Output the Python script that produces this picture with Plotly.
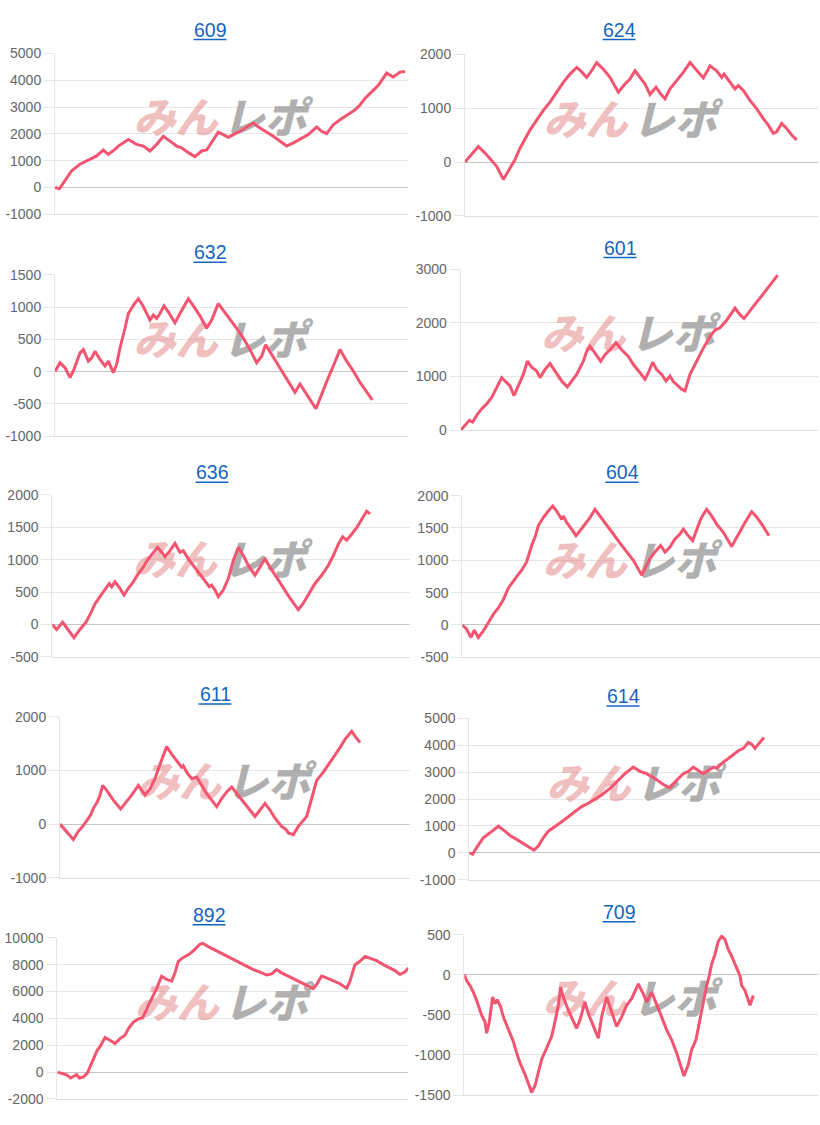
import plotly.graph_objects as go

# ---------------- data ----------------
titles = ["609", "624", "632", "601", "636", "604", "611", "614", "892", "709"]

x_609 = [0, 13, 30, 50, 75, 105, 125, 145, 160, 180, 190, 220, 245, 265, 285, 305, 325, 345, 365, 380,
         400, 420, 440, 455, 475, 490, 505, 520, 535, 555, 595, 615, 655, 695, 715, 740, 760, 785, 800, 815,
         835, 855, 885, 900, 915, 930, 950, 970, 995, 1015, 1035, 1050]
y_609 = [0, -50, 257, 625, 870, 1054, 1176, 1397, 1237, 1421, 1544, 1789, 1605, 1544, 1360, 1605, 1911, 1727, 1544, 1482,
         1299, 1152, 1360, 1397, 1789, 2058, 1972, 1874, 1972, 2095, 2401, 2217, 1911, 1544, 1666, 1850, 1972, 2254, 2095, 2009,
         2340, 2524, 2769, 2891, 3075, 3320, 3565, 3810, 4263, 4116, 4300, 4324]

x_624 = [0, 20, 40, 60, 80, 95, 115, 135, 150, 165, 180, 195, 215, 235, 255, 275, 295, 315, 335, 345,
         365, 380, 395, 415, 435, 460, 480, 495, 510, 525, 540, 555, 573, 585, 600, 615, 635, 655, 675, 695,
         715, 730, 735, 755, 770, 777, 795, 810, 820, 835, 855, 875, 895, 910, 925, 935, 950, 965, 980, 995]
y_624 = [0, 134, 287, 165, 31, -79, -323, -110, 43, 256, 439, 592, 775, 958, 1110, 1293, 1476, 1629, 1751, 1702,
         1568, 1690, 1842, 1720, 1568, 1293, 1446, 1537, 1690, 1568, 1446, 1251, 1385, 1275, 1171, 1354, 1507, 1659, 1842, 1690,
         1556, 1720, 1781, 1690, 1568, 1629, 1476, 1354, 1415, 1324, 1141, 988, 805, 683, 531, 561, 714, 622, 500, 409]

x_632 = [0, 15, 30, 45, 55, 65, 75, 85, 100, 110, 120, 135, 150, 160, 175, 185, 195, 210, 220, 235,
         250, 263, 275, 285, 295, 305, 315, 327, 340, 360, 375, 400, 415, 435, 455, 470, 490, 505, 525, 545,
         565, 585, 605, 620, 632, 645, 660, 675, 695, 720, 735, 750, 770, 783, 800, 820, 835, 855, 875, 895,
         915, 935, 952]
y_632 = [0, 137, 61, -92, 10, 137, 290, 341, 163, 214, 316, 188, 87, 163, -15, 112, 366, 672, 901, 1028,
         1130, 1028, 901, 799, 875, 825, 901, 1018, 926, 758, 901, 1130, 1018, 865, 672, 799, 1054, 952, 799, 672,
         519, 341, 137, 239, 417, 305, 188, 61, -117, -321, -193, -321, -473, -575, -346, -92, 87, 341, 163, 10,
         -168, -321, -438]

x_601 = [0, 13, 26, 36, 48, 63, 78, 93, 108, 123, 138, 148, 160, 173, 188, 200, 213, 228, 238, 253,
         268, 283, 303, 320, 333, 348, 358, 368, 378, 388, 403, 420, 433, 448, 466, 483, 503, 518, 538, 553,
         563, 576, 588, 603, 616, 628, 638, 653, 663, 673, 688, 708, 728, 748, 763, 778, 798, 823, 838, 850,
         868, 888, 908, 928, 951]
y_601 = [0, 92, 184, 153, 275, 398, 490, 612, 796, 979, 887, 826, 643, 826, 1040, 1285, 1175, 1102, 979, 1132,
         1242, 1102, 918, 808, 918, 1040, 1163, 1285, 1469, 1561, 1438, 1285, 1408, 1499, 1634, 1499, 1377, 1224, 1071, 949,
         1071, 1267, 1132, 1040, 918, 1010, 906, 826, 765, 734, 1040, 1285, 1530, 1744, 1867, 1909, 2050, 2277, 2154, 2081,
         2234, 2387, 2540, 2705, 2889]

x_636 = [0, 13, 31, 43, 65, 83, 101, 113, 128, 143, 158, 171, 178, 188, 203, 215, 228, 243, 258, 273,
         288, 303, 316, 328, 338, 353, 368, 383, 393, 408, 423, 443, 461, 471, 478, 488, 498, 513, 528, 543,
         558, 573, 588, 608, 623, 638, 653, 668, 688, 713, 738, 753, 768, 788, 808, 828, 843, 858, 871, 883,
         898, 913, 928, 943, 953]
y_636 = [0, -76, 35, -51, -203, -76, 35, 152, 319, 431, 532, 634, 583, 659, 558, 456, 558, 659, 786, 887,
         1014, 1115, 1191, 1115, 1049, 1141, 1252, 1115, 1141, 1014, 913, 786, 659, 583, 608, 532, 431, 532, 710, 989,
         1191, 1065, 913, 760, 887, 1014, 887, 760, 608, 406, 228, 330, 456, 634, 760, 913, 1065, 1242, 1354, 1303,
         1394, 1496, 1622, 1749, 1709]

x_604 = [0, 13, 26, 36, 48, 63, 78, 93, 108, 123, 138, 148, 163, 178, 193, 208, 218, 228, 243, 258,
         271, 283, 298, 303, 313, 328, 341, 353, 368, 383, 398, 413, 433, 453, 473, 493, 513, 538, 548, 563,
         578, 595, 608, 623, 638, 653, 663, 675, 691, 701, 713, 723, 733, 748, 763, 783, 808, 818, 833, 848,
         868, 883, 898, 913, 920]
y_604 = [0, -66, -193, -81, -193, -91, 36, 163, 264, 391, 569, 645, 747, 848, 975, 1229, 1356, 1534, 1661, 1763,
         1839, 1763, 1636, 1687, 1585, 1483, 1382, 1458, 1560, 1661, 1788, 1687, 1560, 1407, 1265, 1128, 1001, 772, 874, 1026,
         1128, 1229, 1128, 1204, 1331, 1407, 1483, 1397, 1306, 1458, 1610, 1712, 1788, 1687, 1560, 1433, 1214, 1306, 1458, 1585,
         1753, 1671, 1560, 1433, 1382]

x_611 = [0, 15, 30, 40, 55, 68, 82, 92, 100, 112, 120, 128, 140, 160, 182, 200, 215, 235, 245, 255,
         270, 285, 295, 310, 320, 335, 350, 365, 370, 380, 395, 410, 425, 440, 455, 470, 485, 500, 515, 530,
         545, 565, 585, 600, 615, 630, 645, 665, 678, 685, 700, 715, 730, 740, 755, 770, 790, 810, 825, 840,
         855, 875, 885, 900]
y_611 = [0, -104, -208, -288, -135, -43, 80, 171, 294, 416, 539, 722, 630, 447, 282, 416, 539, 722, 630, 539,
         661, 845, 1028, 1273, 1444, 1304, 1181, 1059, 1089, 967, 845, 875, 722, 569, 447, 324, 477, 600, 692, 569,
         447, 294, 141, 263, 386, 263, 110, -43, -104, -165, -196, -43, 80, 141, 477, 814, 967, 1151, 1273, 1426,
         1579, 1732, 1640, 1518]

x_614 = [0, 10, 22, 42, 62, 87, 107, 122, 142, 167, 194, 207, 222, 237, 252, 272, 292, 317, 337, 357,
         372, 397, 422, 447, 467, 492, 512, 532, 557, 582, 602, 622, 642, 657, 672, 687, 702, 717, 732, 742,
         762, 782, 807, 822, 837, 847, 857, 867, 884]
y_614 = [0, -50, 196, 562, 745, 990, 807, 648, 501, 318, 98, 257, 562, 807, 929, 1112, 1295, 1540, 1723, 1845,
         1967, 2151, 2395, 2701, 2945, 3189, 3031, 2945, 2762, 2542, 2420, 2701, 2945, 3031, 3189, 3067, 2945, 3067, 3189, 3153,
         3373, 3556, 3800, 3886, 4106, 4045, 3886, 4045, 4289]

x_892 = [0, 13, 28, 40, 50, 58, 66, 78, 90, 98, 108, 120, 128, 143, 158, 173, 188, 203, 213, 228,
         243, 256, 268, 283, 298, 313, 328, 343, 353, 363, 378, 393, 408, 428, 436, 453, 468, 488, 508, 528,
         548, 568, 588, 608, 628, 643, 658, 673, 693, 708, 728, 748, 768, 778, 793, 808, 828, 848, 868, 878,
         893, 908, 923, 938, 958, 978, 998, 1013, 1028, 1043, 1053]
y_892 = [0, -73, -196, -441, -269, -196, -441, -367, -73, 416, 1028, 1640, 1885, 2570, 2375, 2130, 2497, 2742, 3231, 3721,
         3966, 4039, 4700, 5435, 6242, 7148, 6903, 6781, 7393, 8250, 8544, 8739, 9033, 9523, 9596, 9351, 9156, 8911, 8617, 8372,
         8127, 7882, 7638, 7442, 7246, 7320, 7638, 7393, 7148, 6952, 6732, 6487, 6218, 6536, 7148, 7026, 6830, 6585, 6242, 6781,
         8005, 8250, 8617, 8494, 8299, 8005, 7760, 7564, 7271, 7466, 7760]

x_709 = [0, 7, 17, 27, 37, 47, 52, 62, 67, 75, 85, 92, 99, 109, 117, 127, 137, 147, 157, 167,
         182, 192, 202, 212, 222, 232, 247, 262, 272, 282, 289, 297, 312, 327, 337, 347, 362, 372, 387, 402,
         412, 427, 442, 457, 472, 487, 502, 522, 537, 547, 562, 577, 592, 607, 622, 637, 647, 659, 672, 682,
         695, 707, 717, 727, 735, 742, 752, 762, 772, 782, 792, 802, 812, 827, 832, 842, 857, 867]
y_709 = [0, -74, -135, -217, -320, -443, -504, -586, -729, -586, -279, -361, -311, -402, -525, -627, -729, -832, -975, -1098,
         -1242, -1344, -1467, -1385, -1221, -1057, -914, -770, -586, -381, -156, -279, -443, -586, -668, -566, -340, -484, -647, -791,
         -525, -279, -463, -647, -525, -381, -299, -115, -238, -340, -217, -361, -525, -688, -811, -975, -1098, -1262, -1119, -934,
         -811, -566, -320, -135, -12, 131, 254, 418, 479, 438, 316, 234, 131, -12, -135, -197, -381, -258]

ticks_609 = [-1000, 0, 1000, 2000, 3000, 4000, 5000]
ticks_624 = [-1000, 0, 1000, 2000]
ticks_632 = [-1000, -500, 0, 500, 1000, 1500]
ticks_601 = [0, 1000, 2000, 3000]
ticks_636 = [-500, 0, 500, 1000, 1500, 2000]
ticks_604 = [-500, 0, 500, 1000, 1500, 2000]
ticks_611 = [-1000, 0, 1000, 2000]
ticks_614 = [-1000, 0, 1000, 2000, 3000, 4000, 5000]
ticks_892 = [-2000, 0, 2000, 4000, 6000, 8000, 10000]
ticks_709 = [-1500, -1000, -500, 0, 500]

x_spans = [1060, 1060, 1060, 1073, 1073, 1073, 1050, 1052, 1053, 1062]

series_x = [x_609, x_624, x_632, x_601, x_636, x_604, x_611, x_614, x_892, x_709]
series_y = [y_609, y_624, y_632, y_601, y_636, y_604, y_611, y_614, y_892, y_709]
series_ticks = [ticks_609, ticks_624, ticks_632, ticks_601, ticks_636, ticks_604,
                ticks_611, ticks_614, ticks_892, ticks_709]

# ---------------- layout (pixels) ----------------
W, H = 820, 1125
# plot areas: left, right, top, bottom
geom = [(55, 408.3, 46, 209.3), (465, 818.3, 46.7, 211),
        (55, 408.3, 270.7, 434.3), (460.7, 818.3, 265, 428.3),
        (52.3, 410, 494, 658.3), (462.3, 820, 494.7, 658.7),
        (60, 410, 719, 882.3), (469.3, 820, 720.7, 884.3),
        (57.3, 408.3, 943.3, 1106.7), (464.3, 818.3, 940, 1102.7)]
title_pos = [(210, 22), (619, 22), (210, 248), (620, 243), (212, 471),
             (622, 471), (215, 696), (623, 698), (209, 920), (619, 917)]

LINE = "rgb(243,84,112)"
GRID = "#e6e6e6"
ZERO = "#c6c6c6"
TICKFONT = dict(family="Liberation Sans, Arial, sans-serif", size=14, color="#666666")
LINK = "#1565c0"
WM_FONT = "Noto Sans CJK JP"
WM_FRAC_Y = 0.568

fig = go.Figure()
axes = {}
annotations = []
shapes = []

for i in range(len(titles)):
    sfx = "" if i == 0 else str(i + 1)
    xr, yr = "x" + sfx, "y" + sfx
    L, R, T, B = geom[i]
    ticks = series_ticks[i]
    ymin, ymax = ticks[0], ticks[-1]
    span = x_spans[i]

    axes["xaxis" + sfx] = dict(domain=[L / W, R / W], range=[0, span], anchor=yr,
                               showgrid=False, zeroline=False, showticklabels=False,
                               ticks="", showline=True, linecolor="#dedede", linewidth=1,
                               fixedrange=True)
    axes["yaxis" + sfx] = dict(domain=[1 - B / H, 1 - T / H], range=[ymin, ymax], anchor=xr,
                               tickmode="array", tickvals=ticks, ticktext=[str(v) for v in ticks],
                               showgrid=True, gridcolor=GRID, gridwidth=1,
                               zeroline=True, zerolinecolor=ZERO, zerolinewidth=1,
                               showline=True, linecolor=GRID, linewidth=1,
                               ticks="outside", ticklen=10, tickcolor=GRID, tickwidth=1,
                               tickfont=TICKFONT, fixedrange=True)

    # watermark behind the line
    wy = ymin + WM_FRAC_Y * (ymax - ymin)
    fig.add_trace(go.Scatter(x=[span * 0.46], y=[wy], mode="text", text=["みん"],
                             textposition="middle left", xaxis=xr, yaxis=yr,
                             textfont=dict(family=WM_FONT, size=42, color="rgba(222,110,110,0.45)",
                                           weight=900, style="italic"),
                             hoverinfo="skip", showlegend=False, cliponaxis=False))
    fig.add_trace(go.Scatter(x=[span * 0.475], y=[wy], mode="text", text=["レポ"],
                             textposition="middle right", xaxis=xr, yaxis=yr,
                             textfont=dict(family=WM_FONT, size=42, color="rgba(150,150,150,0.75)",
                                           weight=900, style="italic"),
                             hoverinfo="skip", showlegend=False, cliponaxis=False))

    fig.add_trace(go.Scatter(x=series_x[i], y=series_y[i], mode="lines",
                             line=dict(color=LINE, width=3), xaxis=xr, yaxis=yr,
                             hoverinfo="y", showlegend=False))

    cx, cy = title_pos[i]
    annotations.append(dict(x=cx / W, y=1 - cy / H, xref="paper", yref="paper",
                            text=titles[i], showarrow=False, xanchor="center", yanchor="middle",
                            font=dict(family="Liberation Sans, Arial, sans-serif", size=19.5, color=LINK)))
    shapes.append(dict(type="line", xref="paper", yref="paper",
                       x0=(cx - 16.5) / W, x1=(cx + 16.5) / W,
                       y0=1 - (cy + 10) / H, y1=1 - (cy + 10) / H,
                       line=dict(color=LINK, width=1.5)))

fig.update_layout(width=W, height=H, margin=dict(l=0, r=0, t=0, b=0),
                  paper_bgcolor="white", plot_bgcolor="white", showlegend=False,
                  annotations=annotations, shapes=shapes, **axes)

fig.write_html("out.html", config={"displayModeBar": False},
               post_script="document.body.style.margin='0';document.body.style.overflow='hidden';")
